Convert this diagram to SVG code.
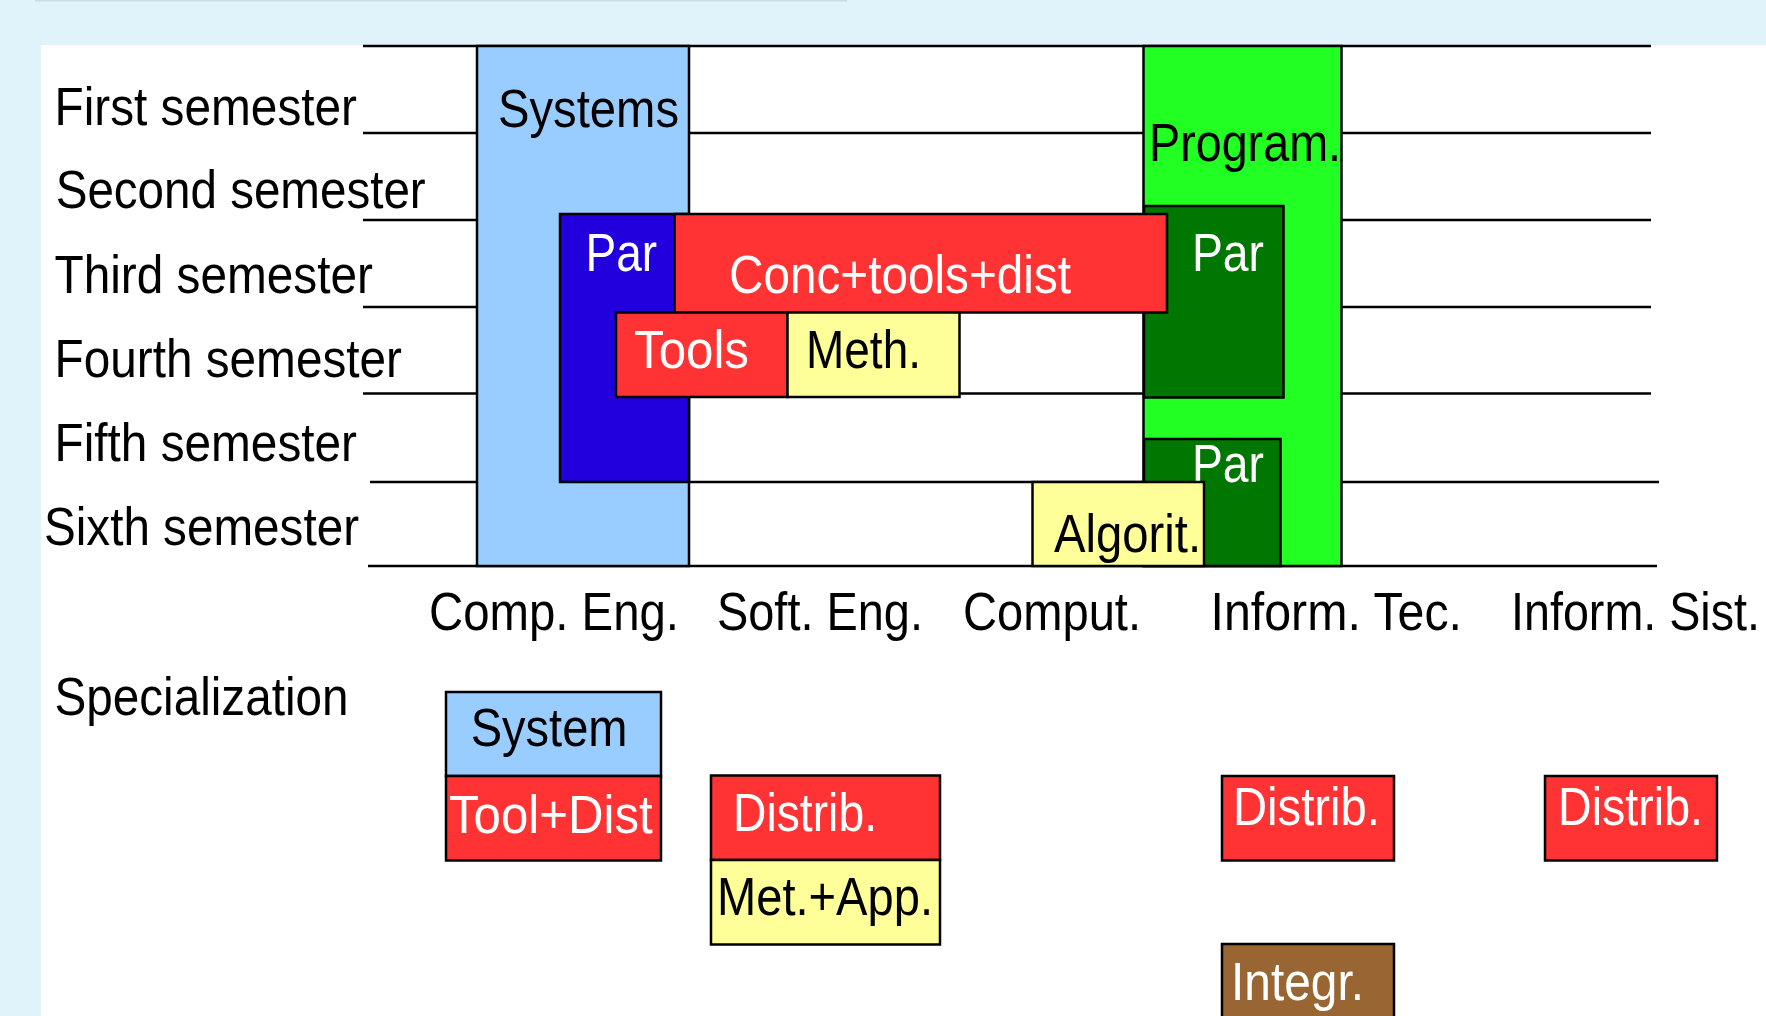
<svg xmlns="http://www.w3.org/2000/svg" width="1766" height="1016" viewBox="0 0 1766 1016">
<style>
text{font-family:"Liberation Sans",Arial,sans-serif;font-size:53px;}
.k{fill:#000}
.w{fill:#fff}
.b{stroke:#000;stroke-width:2.5}
.grid line{stroke:#000;stroke-width:2.5}
.lb{fill:#99CCFF}
.db{fill:#2200DD}
.rd{fill:#FF3333}
.yl{fill:#FFFF99}
.gr{fill:#22FF22}
.dg{fill:#007700}
.br{fill:#996633}
</style>
<rect x="0" y="0" width="1766" height="1016" fill="#E0F3FA"/>
<rect x="35" y="0" width="812" height="1.5" fill="#C6DDE8"/>
<rect x="41" y="45" width="1725" height="971" fill="#FFFFFF"/>
<g id="grid" class="grid">
<line x1="363" y1="46" x2="1651" y2="46"/>
<line x1="363" y1="133" x2="1651" y2="133"/>
<line x1="363" y1="220" x2="1651" y2="220"/>
<line x1="363" y1="307" x2="1651" y2="307"/>
<line x1="363" y1="393.5" x2="1651" y2="393.5"/>
<line x1="370" y1="482" x2="1659" y2="482"/>
<line x1="368" y1="566" x2="1657" y2="566"/>
</g>
<g id="labels">
<text class="k" x="54.5" y="125" textLength="302.5" lengthAdjust="spacingAndGlyphs">First semester</text>
<text class="k" x="55.7" y="208" textLength="370" lengthAdjust="spacingAndGlyphs">Second semester</text>
<text class="k" x="54.5" y="293" textLength="318.5" lengthAdjust="spacingAndGlyphs">Third semester</text>
<text class="k" x="54.5" y="377" textLength="347.5" lengthAdjust="spacingAndGlyphs">Fourth semester</text>
<text class="k" x="54.5" y="461" textLength="302.5" lengthAdjust="spacingAndGlyphs">Fifth semester</text>
<text class="k" x="44" y="545" textLength="315" lengthAdjust="spacingAndGlyphs">Sixth semester</text>
<text class="k" x="429" y="630" textLength="250" lengthAdjust="spacingAndGlyphs">Comp. Eng.</text>
<text class="k" x="717" y="630" textLength="206" lengthAdjust="spacingAndGlyphs">Soft. Eng.</text>
<text class="k" x="963" y="630" textLength="178" lengthAdjust="spacingAndGlyphs">Comput.</text>
<text class="k" x="1210.5" y="630" textLength="251.5" lengthAdjust="spacingAndGlyphs">Inform. Tec.</text>
<text class="k" x="1511" y="630" textLength="249" lengthAdjust="spacingAndGlyphs">Inform. Sist.</text>
<text class="k" x="54.5" y="715" textLength="294" lengthAdjust="spacingAndGlyphs">Specialization</text>
</g>
<g id="systems">
<rect class="lb b" x="477" y="46" width="212" height="520"/>
<text class="k" x="498" y="127" textLength="181" lengthAdjust="spacingAndGlyphs">Systems</text>
</g>
<g id="program">
<rect class="gr b" x="1143.5" y="46" width="198" height="520"/>
<text class="k" x="1149" y="161" textLength="192" lengthAdjust="spacingAndGlyphs">Program.</text>
</g>
<g id="par-comp">
<rect class="db b" x="560" y="214" width="129" height="268"/>
<text class="w" x="585.5" y="271" textLength="71.5" lengthAdjust="spacingAndGlyphs">Par</text>
</g>
<g id="par-inform-1">
<rect class="dg b" x="1144" y="206" width="139.5" height="191.5"/>
<text class="w" x="1192" y="271" textLength="72" lengthAdjust="spacingAndGlyphs">Par</text>
</g>
<g id="conc">
<rect class="rd b" x="674.5" y="214" width="492.5" height="98.5"/>
<text class="w" x="729" y="293" textLength="342" lengthAdjust="spacingAndGlyphs">Conc+tools+dist</text>
</g>
<g id="tools">
<rect class="rd b" x="616" y="312.5" width="171.5" height="84.5"/>
<text class="w" x="634" y="368" textLength="115" lengthAdjust="spacingAndGlyphs">Tools</text>
</g>
<g id="meth">
<rect class="yl b" x="787.5" y="312.5" width="172" height="84.5"/>
<text class="k" x="806" y="368" textLength="115" lengthAdjust="spacingAndGlyphs">Meth.</text>
</g>
<g id="par-inform-2">
<rect class="dg b" x="1144" y="439" width="136.5" height="127"/>
<text class="w" x="1192" y="482" textLength="72" lengthAdjust="spacingAndGlyphs">Par</text>
</g>
<g id="algorit">
<rect class="yl b" x="1032.5" y="482" width="171.5" height="84"/>
<text class="k" x="1054" y="552" textLength="147" lengthAdjust="spacingAndGlyphs">Algorit.</text>
</g>
<g id="spec-system">
<rect class="lb b" x="446" y="692" width="215" height="84"/>
<text class="k" x="470.7" y="746" textLength="156.8" lengthAdjust="spacingAndGlyphs">System</text>
</g>
<g id="spec-tooldist">
<rect class="rd b" x="446" y="776" width="215" height="84.5"/>
<text class="w" x="449" y="833" textLength="203.7" lengthAdjust="spacingAndGlyphs">Tool+Dist</text>
</g>
<g id="spec-soft-distrib">
<rect class="rd b" x="711" y="775.5" width="229" height="84.5"/>
<text class="w" x="733" y="831" textLength="144" lengthAdjust="spacingAndGlyphs">Distrib.</text>
</g>
<g id="spec-metapp">
<rect class="yl b" x="711" y="860" width="229" height="84.5"/>
<text class="k" x="717" y="915" textLength="216" lengthAdjust="spacingAndGlyphs">Met.+App.</text>
</g>
<g id="spec-tec-distrib">
<rect class="rd b" x="1222" y="776" width="172" height="84.5"/>
<text class="w" x="1233" y="825" textLength="147" lengthAdjust="spacingAndGlyphs">Distrib.</text>
</g>
<g id="spec-sist-distrib">
<rect class="rd b" x="1545" y="776" width="172" height="84.5"/>
<text class="w" x="1558" y="825" textLength="145" lengthAdjust="spacingAndGlyphs">Distrib.</text>
</g>
<g id="spec-integr">
<rect class="br b" x="1222" y="944" width="172" height="90"/>
<text class="w" x="1231" y="1000" textLength="133" lengthAdjust="spacingAndGlyphs">Integr.</text>
</g>
</svg>
